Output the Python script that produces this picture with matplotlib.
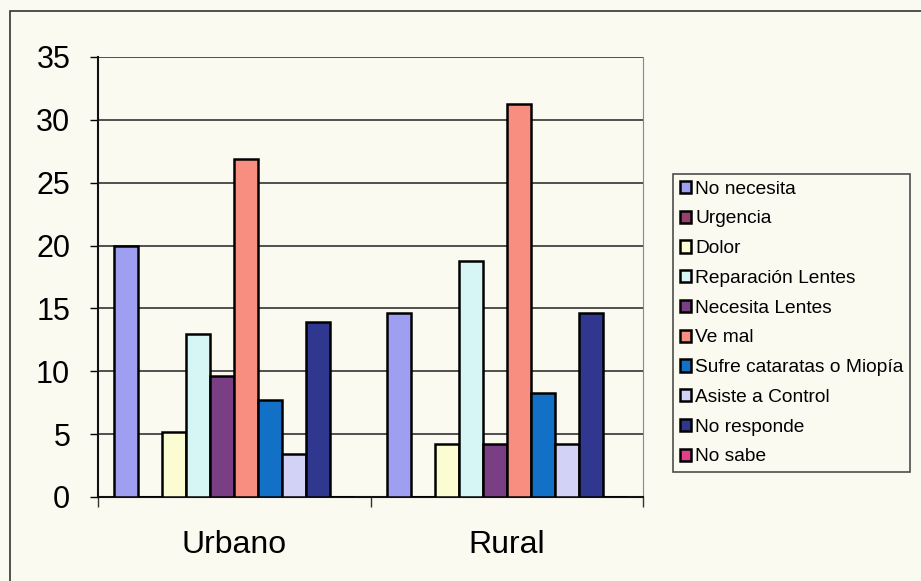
import numpy as np
import matplotlib
matplotlib.use("Agg")
import matplotlib.pyplot as plt
from matplotlib.patches import Rectangle

plt.rcParams['font.family'] = ['Liberation Sans', 'DejaVu Sans']

# ---------- datos ----------
grupos = ["Urbano", "Rural"]
series = ["No necesita", "Urgencia", "Dolor", "Reparación Lentes", "Necesita Lentes",
          "Ve mal", "Sufre cataratas o Miopía", "Asiste a Control", "No responde", "No sabe"]
urbano = [20.0, 0, 5.2, 13.0, 9.6, 26.9, 7.7, 3.4, 13.9, 0]
rural = [14.6, 0, 4.2, 18.8, 4.2, 31.3, 8.3, 4.2, 14.6, 0]
colores = ["#9f9ff2", "#96406e", "#fcfcd2", "#d6f6f6", "#7a3e84",
           "#f78e80", "#1270c6", "#d2d2f6", "#2f378e", "#e0408a"]

fondo = "#fbfaf1"

fig = plt.figure(figsize=(9.21, 5.81), dpi=100, facecolor=fondo)
W, H = 921, 581
ax = fig.add_axes([98 / W, (H - 497) / H, (643 - 98) / W, (497 - 57) / H])
ax.set_facecolor(fondo)

x = np.arange(len(grupos))
ancho = 24 / 272
n = len(series)
for i, nombre in enumerate(series):
    vals = [urbano[i], rural[i]]
    pos = x - ancho * n / 2 + ancho * (i + 0.5)
    ax.bar(pos, vals, width=ancho, color=colores[i], edgecolor="black",
           linewidth=1.8, label=nombre, zorder=3)

ax.set_xlim(-0.5, 1.5)
ax.set_ylim(0, 35)
ax.set_yticks(range(0, 36, 5))
ax.yaxis.grid(True, color="#222222", linewidth=1.1, zorder=0)
ax.set_xticks([-0.5, 0.5, 1.5])
ax.set_xticklabels([])
ax.set_xticks(x, minor=True)
ax.set_xticklabels(grupos, minor=True, fontsize=23)
ax.tick_params(axis="x", which="minor", length=0, pad=24)
ax.tick_params(axis="x", which="major", length=7, width=1, color="#333333")
ax.tick_params(axis="y", labelsize=22, length=6, width=1, pad=14)

for s in ["left", "bottom"]:
    ax.spines[s].set_color("#111111")
    ax.spines[s].set_linewidth(1.5)
ax.spines["top"].set_visible(False)
ax.spines["right"].set_color("#888888")
ax.spines["right"].set_linestyle((0, (2, 1)))

leg = fig.legend(loc="upper left", bbox_to_anchor=(673 / W, 1 - 174 / H),
                 bbox_transform=fig.transFigure, fontsize=13.8, frameon=True,
                 fancybox=False, edgecolor="#222222", facecolor=fondo,
                 handlelength=0.6, handleheight=0.6, handletextpad=0.2,
                 labelspacing=0.665, borderpad=0.35, borderaxespad=0)
leg.get_frame().set_linewidth(1.2)

# marco exterior
fig.patches.append(Rectangle((10 / W, -0.1), 1.2, 1 - 11 / H + 0.1,
                             transform=fig.transFigure, fill=False,
                             edgecolor="#333333", linewidth=1.2))

fig.savefig("out.png", dpi=100, facecolor=fondo)
